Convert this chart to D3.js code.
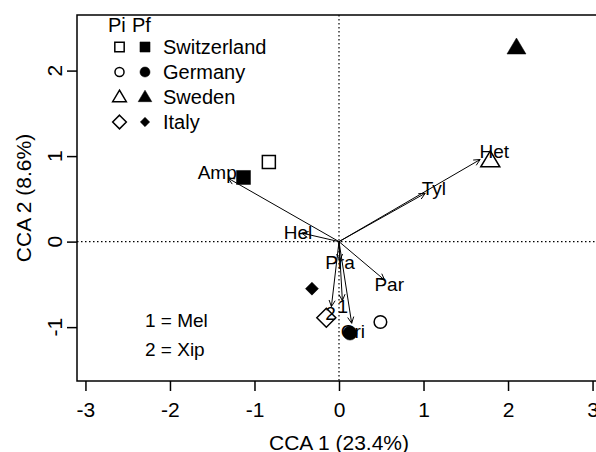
<!DOCTYPE html>
<html>
<head>
<meta charset="utf-8">
<script src="https://cdn.jsdelivr.net/npm/d3@7"></script>
<style>
body { margin: 0; background: #fff; }
text { font-family: "Liberation Sans", Arial, sans-serif; fill: #000; }
</style>
</head>
<body>
<div class="chart"></div>
<script>
// site scores, Pi and Pf for each country
var countries = ["Switzerland", "Germany", "Sweden", "Italy"]
var shapes = ["square", "circle", "triangle", "diamond"]
var piX = [-0.83, 0.49, 1.79, -0.15]
var piY = [0.93, -0.94, 0.95, -0.89]
var pfX = [-1.13, 0.13, 2.10, -0.32]
var pfY = [0.75, -1.07, 2.27, -0.55]

// biplot arrows (species)
var arrowNames = ["Amp", "Het", "Tyl", "Hel", "Par", "Pra", "1", "2", "Cri"]
var arrowX = [-1.31, 1.67, 1.02, -0.44, 0.54, 0.01, 0.04, -0.09, 0.15]
var arrowY = [0.74, 0.96, 0.565, 0.10, -0.45, -0.22, -0.69, -0.76, -0.955]

var xTicks = [-3, -2, -1, 0, 1, 2, 3]
var yTicks = [-1, 0, 1, 2]
var codeNotes = ["1 = Mel", "2 = Xip"]

var width = 596
var height = 452

var x = d3.scaleLinear().domain([-3.1, 3.1]).range([77, 601])
var y = d3.scaleLinear().domain([-1.63, 2.65]).range([381, 15])

var svg = d3.select(".chart")
    .append("svg")
    .attr("width", width)
    .attr("height", height)

// zero lines
svg.append("line")
    .attr("x1", x(0)).attr("x2", x(0))
    .attr("y1", 15).attr("y2", 381)
    .attr("stroke", "#000").attr("stroke-width", 1.2)
    .attr("stroke-dasharray", "1.5,2.5")
svg.append("line")
    .attr("x1", 77).attr("x2", 601)
    .attr("y1", y(0)).attr("y2", y(0))
    .attr("stroke", "#000").attr("stroke-width", 1.2)
    .attr("stroke-dasharray", "1.5,2.5")

// frame
svg.append("rect")
    .attr("x", 77).attr("y", 15)
    .attr("width", 524).attr("height", 366)
    .attr("fill", "none").attr("stroke", "#000").attr("stroke-width", 1.5)

// axes
var xAxis = svg.append("g")
    .attr("transform", "translate(0,381)")
    .call(d3.axisBottom(x).tickValues(xTicks).tickSize(10).tickPadding(11).tickFormat(d3.format("d")))
xAxis.select(".domain").remove()
xAxis.selectAll("line").attr("stroke-width", 1.5)
xAxis.selectAll("text").style("font-size", "21px").attr("font-family", null)
    .text(d => d < 0 ? "-" + Math.abs(d) : d)

var yAxis = svg.append("g")
    .attr("transform", "translate(77,0)")
    .call(d3.axisLeft(y).tickValues(yTicks).tickSize(10).tickFormat(""))
yAxis.select(".domain").remove()
yAxis.selectAll("line").attr("stroke-width", 1.5)

svg.selectAll(".ylab")
    .data(yTicks)
    .enter()
    .append("text")
    .attr("class", "ylab")
    .attr("transform", d => "translate(62," + y(d) + ") rotate(-90)")
    .attr("text-anchor", "middle")
    .style("font-size", "21px")
    .text(d => d < 0 ? "-" + Math.abs(d) : d)

svg.append("text")
    .attr("x", 339).attr("y", 450)
    .attr("text-anchor", "middle")
    .style("font-size", "21px")
    .text("CCA 1 (23.4%)")

svg.append("text")
    .attr("transform", "translate(31,198) rotate(-90)")
    .attr("text-anchor", "middle")
    .style("font-size", "21px")
    .text("CCA 2 (8.6%)")

// arrows
var ax = x(0), ay = y(0)
var arrows = svg.append("g")
arrowNames.forEach(function(name, i) {
    var tx = x(arrowX[i]), ty = y(arrowY[i])
    var ang = Math.atan2(ty - ay, tx - ax)
    var hl = 7, ha = 0.45
    arrows.append("line")
        .attr("x1", ax).attr("y1", ay).attr("x2", tx).attr("y2", ty)
        .attr("stroke", "#000").attr("stroke-width", 1)
    arrows.append("path")
        .attr("d", "M" + (tx - hl * Math.cos(ang - ha)) + "," + (ty - hl * Math.sin(ang - ha)) +
            "L" + tx + "," + ty +
            "L" + (tx - hl * Math.cos(ang + ha)) + "," + (ty - hl * Math.sin(ang + ha)))
        .attr("fill", "none").attr("stroke", "#000").attr("stroke-width", 1)
})

// R-like plotting symbols (open ones are hollow)
function symbolPath(shape, filled, s) {
    if (shape == "square") {
        var h = (filled ? 7 : 6.5) * s
        return "M" + (-h) + "," + (-h) + "H" + h + "V" + h + "H" + (-h) + "Z"
    }
    if (shape == "circle") {
        var r = (filled ? 7 : 6.3) * s
        return "M" + (-r) + ",0A" + r + "," + r + " 0 1,0 " + r + ",0A" + r + "," + r + " 0 1,0 " + (-r) + ",0Z"
    }
    if (shape == "triangle") {
        var w = 9.5 * s, t = 9.5 * s, b = 6.5 * s
        return "M0," + (-t) + "L" + w + "," + b + "L" + (-w) + "," + b + "Z"
    }
    var d = (filled ? 6.5 : 9.5) * s
    return "M0," + (-d) + "L" + d + ",0L0," + d + "L" + (-d) + ",0Z"
}

function drawSymbol(g, shape, filled, cx, cy, s) {
    g.append("path")
        .attr("d", symbolPath(shape, filled, s))
        .attr("transform", "translate(" + cx + "," + cy + ")")
        .attr("fill", filled ? "#000" : "none")
        .attr("stroke", "#000")
        .attr("stroke-width", filled ? 0.5 : 1.5)
}

// labels at 1.1 x arrow tip
var labels = svg.append("g")
arrowNames.forEach(function(name, i) {
    labels.append("text")
        .attr("x", x(arrowX[i] * 1.1))
        .attr("y", y(arrowY[i] * 1.1))
        .attr("dy", "0.35em")
        .attr("text-anchor", "middle")
        .style("font-size", "19px")
        .text(name)
})

var pts = svg.append("g")
countries.forEach(function(c, i) {
    drawSymbol(pts, shapes[i], false, x(piX[i]), y(piY[i]), 1)
    drawSymbol(pts, shapes[i], true, x(pfX[i]), y(pfY[i]), 1)
})

// legend
var leg = svg.append("g")
leg.append("text").attr("x", 108).attr("y", 32).style("font-size", "20px").text("Pi")
leg.append("text").attr("x", 132).attr("y", 32).style("font-size", "20px").text("Pf")
countries.forEach(function(c, i) {
    var ly = 47 + i * 25
    drawSymbol(leg, shapes[i], false, 119.5, ly, 0.72)
    drawSymbol(leg, shapes[i], true, 145, ly, 0.72)
    leg.append("text")
        .attr("x", 163).attr("y", ly)
        .attr("dy", "0.35em")
        .style("font-size", "20px")
        .text(c)
})

codeNotes.forEach(function(t, i) {
    svg.append("text")
        .attr("x", 145).attr("y", 320 + i * 29)
        .attr("dy", "0.35em")
        .style("font-size", "19px")
        .text(t)
})
</script>
</body>
</html>
